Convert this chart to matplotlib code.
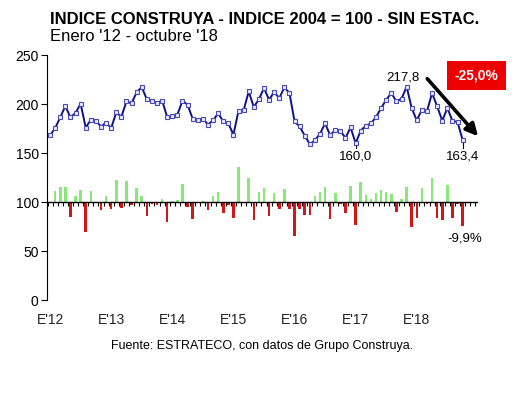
import numpy as np
import matplotlib.pyplot as plt

plt.rcParams['font.family'] = ['Liberation Sans', 'DejaVu Sans']

# Indice Construya, enero 2012 - octubre 2018 (desestacionalizado)
indice = [168.0, 175.5, 186.4, 198.0, 186.4, 191.0, 200.3, 176.0, 184.0, 183.0, 177.0, 181.0,
          175.5, 191.5, 187.0, 202.7, 200.7, 212.0, 217.3, 204.8, 203.4, 201.3, 203.5, 186.7,
          187.4, 189.3, 203.4, 199.2, 185.0, 184.2, 185.2, 179.1, 183.3, 190.5, 182.3, 180.3,
          168.7, 193.2, 193.5, 212.9, 196.9, 204.9, 216.3, 204.4, 212.2, 206.0, 217.0, 211.2,
          182.3, 177.2, 167.7, 159.0, 163.0, 169.7, 180.3, 168.0, 173.8, 172.8, 165.3, 176.2,
          160.0, 173.0, 177.9, 180.3, 186.7, 195.9, 204.4, 211.2, 202.7, 205.4, 217.8, 195.9,
          183.3, 194.2, 192.5, 211.2, 197.6, 183.0, 195.9, 183.0, 181.6, 163.4]

# variacion mensual (%), primer mes sin dato
var_mensual = [0.0, 4.5, 6.2, 6.2, -5.9, 2.5, 4.9, -12.1, 4.5, -0.5, -3.3, 2.3,
               -3.0, 9.1, -2.3, 8.4, -1.0, 5.6, 2.5, -5.8, -0.7, -1.0, 1.1, -8.3,
               0.4, 1.0, 7.4, -2.1, -7.1, -0.4, 0.5, -3.3, 2.3, 3.9, -4.3, -1.1,
               -6.4, 14.5, 0.2, 10.0, -7.5, 4.1, 5.6, -5.5, 3.8, -2.9, 5.3, -2.7,
               -13.7, -2.8, -5.4, -5.2, 2.5, 4.1, 6.2, -6.8, 3.5, -0.6, -4.3, 6.6,
               -9.2, 8.1, 2.8, 1.3, 3.5, 4.9, 4.3, 3.3, -4.0, 1.3, 6.0, -10.1,
               -6.4, 5.9, -0.9, 9.7, -6.4, -7.4, 7.0, -6.6, -0.8, -9.9]

anios = ["E'12", "E'13", "E'14", "E'15", "E'16", "E'17", "E'18"]

x = np.arange(len(indice))
var = np.array(var_mensual)
base = 100
escala = 2.5

fig = plt.figure(figsize=(5.3, 3.99), dpi=100)
ax = fig.add_axes([0.0887, 0.248, 0.813, 0.614])

#barras de variacion sobre la base 100
colores = ['#88e878' if v >= 0 else '#d01818' for v in var]
ax.bar(x[1:], var[1:] * escala, bottom=base, width=0.5, color=colores[1:], zorder=2)

#linea base con marcas mensuales
ax.plot([-0.6, 84], [base, base], color='black', lw=1, zorder=3)
marcas = np.arange(0, 85) - 0.5
ax.plot(marcas, [base] * len(marcas), ls='none', marker=3, ms=3, mew=0.8, color='black', zorder=3)

#indice
ax.plot(x, indice, color='#10108a', lw=1.4, marker='s', ms=3.0, mfc='#e8ecff',
        mec='#4848b8', mew=0.8, zorder=4)

ax.set_xlim(-0.6, 84)
ax.set_ylim(0, 250)
ax.set_yticks([0, 50, 100, 150, 200, 250])
ax.set_xticks(np.arange(0, 84, 12))
ax.set_xticklabels(anios)
ax.tick_params(axis='y', direction='out', length=4, labelsize=10, pad=2)
ax.tick_params(axis='x', length=0, labelsize=10, pad=9, labelcolor='#222222')
for s in ['top', 'right', 'bottom']:
    ax.spines[s].set_visible(False)

#etiquetas
ax.text(69.3, 221, '217,8', ha='center', va='bottom', fontsize=9.5)
ax.plot([81, 81], [161, 155], color='black', lw=0.8)
ax.text(81, 153, '163,4', ha='center', va='top', fontsize=9.5)
ax.plot([60, 60], [158, 155], color='black', lw=0.8)
ax.text(60, 153, '160,0', ha='center', va='top', fontsize=9.5)
ax.text(81.5, 63, '-9,9%', ha='center', va='center', fontsize=9.5)

ax.annotate('', xy=(84.4, 165), xytext=(73.7, 228),
            arrowprops=dict(arrowstyle='-|>', lw=2.6, color='black', mutation_scale=18),
            annotation_clip=False)
ax.text(83.7, 229, '-25,0%', ha='center', va='center', fontsize=10, fontweight='bold',
        color='white', bbox=dict(boxstyle='square,pad=0.55', fc='#ee0000', ec='none'))

fig.text(0.094, 0.952, 'INDICE CONSTRUYA - INDICE 2004 = 100 - SIN ESTAC.',
         fontsize=12, fontweight='bold', va='center')
fig.text(0.094, 0.908, "Enero '12 - octubre '18", fontsize=12, va='center')
fig.text(0.494, 0.133, 'Fuente: ESTRATECO, con datos de Grupo Construya.',
         fontsize=9, ha='center', va='center')

plt.savefig('out.png', dpi=100)
